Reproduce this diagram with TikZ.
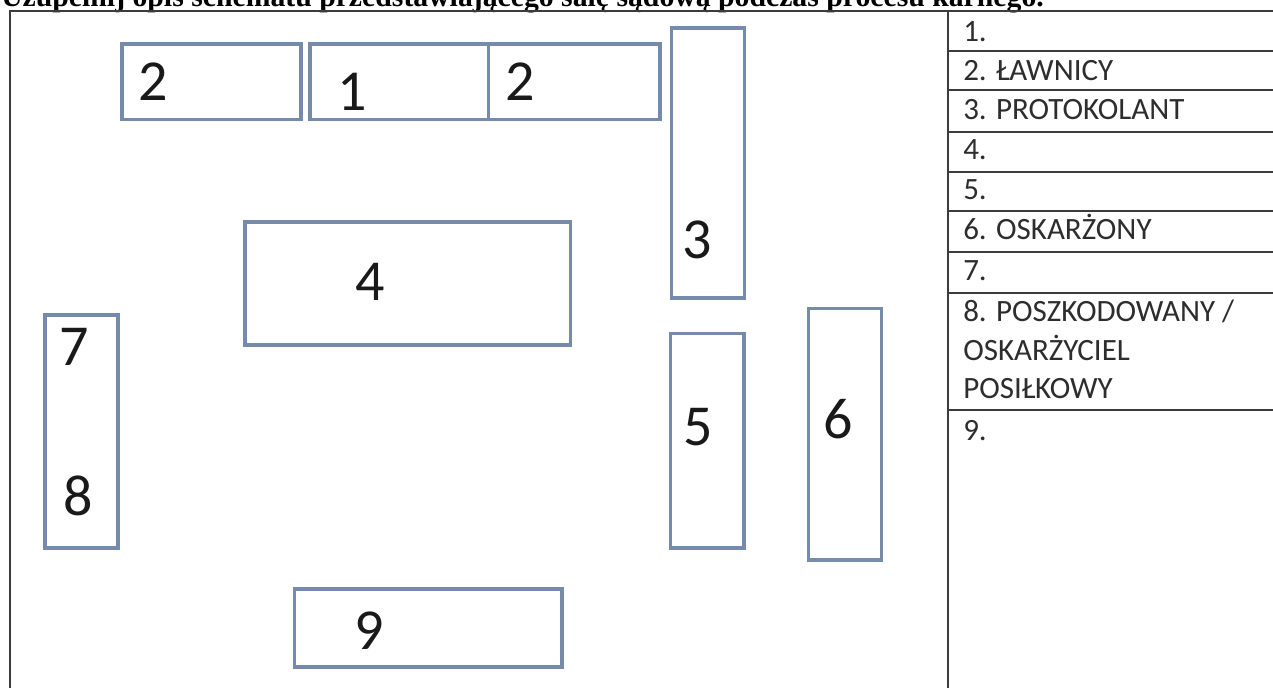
\documentclass[tikz,border=0pt]{standalone}
\usepackage{fontspec}
\setmainfont{Carlito}
\newfontfamily\titlefont{Liberation Serif}
\definecolor{boxblue}{RGB}{118,138,172}
\definecolor{framegray}{RGB}{60,60,60}
\definecolor{tabtext}{RGB}{45,45,45}
\begin{document}
\begin{tikzpicture}[x=0.75pt,y=-0.75pt,
  seatbox/.style={draw=boxblue,line width=2.4pt},
  framel/.style={draw=framegray,line width=1.5pt},
  rowl/.style={draw=framegray,line width=1.3pt},
  digit/.style={inner sep=0pt,anchor=base,text=black!90,font=\fontsize{43.5}{52}\selectfont},
  tabtxt/.style={inner sep=0pt,anchor=base west,text=tabtext,font=\fontsize{23.25}{28}\selectfont},
  titletxt/.style={inner sep=0pt,anchor=base west,font=\titlefont\bfseries\fontsize{22.3}{26}\selectfont}]
\useasboundingbox[fill=white] (0,0) rectangle (1273,688);
% title (cut off at top)
\node[titletxt] (title) at (1,7) {Uzupełnij opis schematu przedstawiającego salę sądową podczas procesu karnego.};
% frame
\draw[framel] (10,688) -- (10,11) -- (1273,11);
\draw[framel] (948,11) -- (948,688);
% table rows
\foreach \yy in {50.7,90,132,172,211,251.7,293,410}{
  \draw[rowl] (948,\yy) -- (1273,\yy);
}
\node[tabtxt] (t1) at (963,41.7) {1.};
\node[tabtxt] (t2) at (963,80.5) {2. ŁAWNICY};
\node[tabtxt] (t3) at (963,120) {3. PROTOKOLANT};
\node[tabtxt] (t4) at (963,160) {4.};
\node[tabtxt] (t5) at (963,199.5) {5.};
\node[tabtxt] (t6) at (963,239) {6. OSKARŻONY};
\node[tabtxt] (t7) at (963,280.5) {7.};
\node[tabtxt] (t8a) at (963,321.7) {8. POSZKODOWANY /};
\node[tabtxt] (t8b) at (963,360.7) {OSKARŻYCIEL};
\node[tabtxt] (t8c) at (963,398.5) {POSIŁKOWY};
\node[tabtxt] (t9) at (963,440) {9.};
% seats
\draw[seatbox] (122,44) rectangle (301,119.5);
\draw[seatbox] (310,44) rectangle (660,119.5);
\draw[seatbox] (488.5,44) -- (488.5,119.5);
\draw[seatbox] (671.5,28) rectangle (744.5,298);
\draw[seatbox] (245,222) rectangle (570.5,345);
\draw[seatbox] (45,315) rectangle (118,548);
\draw[seatbox] (670.5,333.5) rectangle (744,548);
\draw[seatbox] (808.5,308.5) rectangle (881.5,560);
\draw[seatbox] (294.5,589) rectangle (562,667);
% digits
\node[digit] (d2a) at (153.5,100.7) {2};
\node[digit] (d1) at (352.5,110.7) {1};
\node[digit] (d2b) at (520,100.7) {2};
\node[digit] (d3) at (697,258) {3};
\node[digit] (d4) at (369.7,300) {4};
\node[digit] (d5) at (698,445) {5};
\node[digit] (d6) at (838,438.5) {6};
\node[digit] (d7) at (74.5,365) {7};
\node[digit] (d8) at (78.4,515) {8};
\node[digit] (d9) at (369,649) {9};
\end{tikzpicture}
\end{document}
